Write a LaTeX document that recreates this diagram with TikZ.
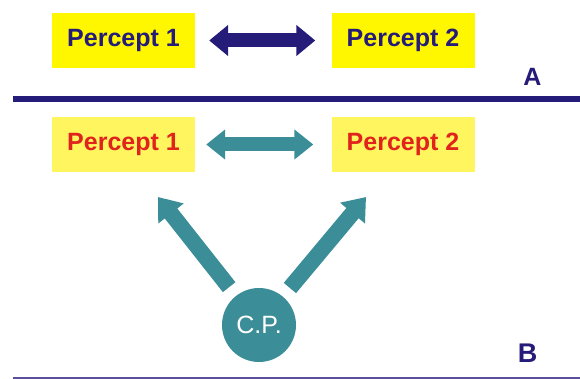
\documentclass[tikz,border=0pt]{standalone}
\usepackage{fontspec}
\setmainfont{Liberation Sans}
\usetikzlibrary{arrows.meta}
\definecolor{navy}{HTML}{241C78}
\definecolor{tealc}{HTML}{3B8E98}
\definecolor{yelA}{HTML}{FFF700}
\definecolor{yelB}{HTML}{FFF55E}
\definecolor{redt}{HTML}{E0231C}
\definecolor{lineB}{HTML}{5B4E9E}
\begin{document}
\begin{tikzpicture}[x=1pt,y=-1pt,
  pbox/.style={minimum width=143pt,minimum height=55pt,inner sep=0pt,font=\fontsize{25}{28}\selectfont\bfseries},
  boxA/.style={pbox,fill=yelA,text=navy},
  boxB/.style={pbox,fill=yelB,text=redt},
  fatA/.style={draw=navy,line width=14pt,{Triangle[length=19pt,width=30pt]}-{Triangle[length=19pt,width=30pt]}},
  fatB/.style={draw=tealc,line width=14pt,{Triangle[length=19pt,width=29pt]}-{Triangle[length=19pt,width=29pt]}},
  fatD/.style={draw=tealc,line width=16pt,-{Triangle[length=21pt,width=31pt]}},
  lbl/.style={font=\fontsize{25}{28}\selectfont\bfseries,text=navy,inner sep=0pt}]
\useasboundingbox (0,0) rectangle (580,379);
% section A
\node[boxA] (a1) at (123.5,40.5) {Percept 1};
\node[boxA] (a2) at (403,40.5) {Percept 2};
\draw[fatA,shorten <=14pt,shorten >=16pt] (a1.east) -- (a2.west);
\node[lbl] (la) at (532.5,77) {A};
\coordinate (s1l) at (13,99.5);
\coordinate (s1r) at (580,99.5);
\draw[navy,line width=6pt] (s1l) -- (s1r);
% section B
\node[boxB] (b1) at (123.5,144.5) {Percept 1};
\node[boxB] (b2) at (403,144.5) {Percept 2};
\draw[fatB,shorten <=11pt,shorten >=18pt] (b1.east) -- (b2.west);
\node[circle,fill=tealc,minimum size=74pt,inner sep=0pt,text=white,font=\fontsize{25}{28}\selectfont] (cp) at (259,325) {C.P.};
\coordinate (tl) at (158,197);
\coordinate (tr) at (366,197);
\draw[fatD,shorten <=11pt] (cp) -- (tl);
\draw[fatD,shorten <=11pt] (cp) -- (tr);
\node[lbl,font=\fontsize{27}{30}\selectfont\bfseries] (lb) at (527.5,353) {B};
\coordinate (s2l) at (13,377.5);
\coordinate (s2r) at (580,377.5);
\draw[lineB,line width=2pt] (s2l) -- (s2r);
\end{tikzpicture}
\end{document}
